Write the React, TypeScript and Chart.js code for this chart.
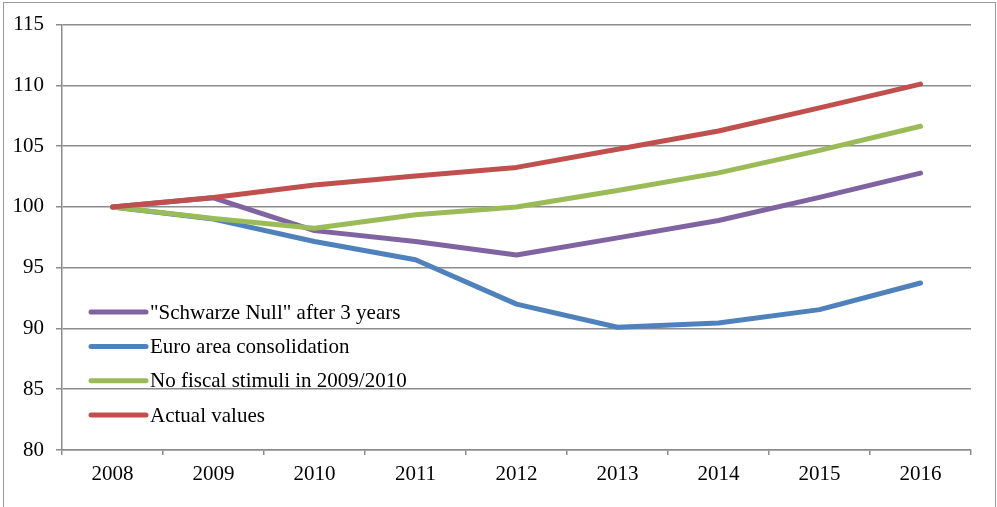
import React, { useEffect, useRef } from "react";
import { Chart, registerables } from "chart.js";

Chart.register(...registerables);

// Years on the horizontal axis
const years = ["2008", "2009", "2010", "2011", "2012", "2013", "2014", "2015", "2016"];

// Scenario paths (index, 2008 = 100)
const schwarzeNull = [100, 100.75, 98.05, 97.15, 96.05, 97.45, 98.88, 100.78, 102.78];
const euroArea = [100, 99.0, 97.15, 95.65, 92.0, 90.1, 90.45, 91.55, 93.74];
const noStimuli = [100, 99.05, 98.25, 99.35, 100.0, 101.35, 102.8, 104.65, 106.64];
const actualValues = [100, 100.78, 101.8, 102.55, 103.25, 104.75, 106.25, 108.15, 110.1];

const seriesNames = [
  '"Schwarze Null" after 3 years',
  "Euro area consolidation",
  "No fiscal stimuli in 2009/2010",
  "Actual values",
];
const seriesColors = ["#8064A2", "#4F81BD", "#9BBB59", "#C0504D"];

// y-axis range
const yMin = 80;
const yMax = 115;
const yStep = 5;

const FONT = "'Liberation Serif', 'Times New Roman', serif";
const FONT_SIZE = 21;
const GRID = "#8c8c8c";

// Legend drawn inside the plot area, lower left
const insideLegend = {
  id: "insideLegend",
  afterDraw(chart: any) {
    const ctx = chart.ctx;
    const area = chart.chartArea;
    const x0 = area.left + 29;
    const x1 = x0 + 55;
    const firstRow = area.top + 287.5;
    const rowGap = 34.3;
    ctx.save();
    ctx.font = `${FONT_SIZE}px ${FONT}`;
    ctx.textBaseline = "middle";
    ctx.textAlign = "left";
    chart.data.datasets.forEach((ds: any, i: number) => {
      const y = firstRow + i * rowGap;
      ctx.strokeStyle = ds.borderColor;
      ctx.lineWidth = 5;
      ctx.lineCap = "round";
      ctx.beginPath();
      ctx.moveTo(x0, y);
      ctx.lineTo(x1, y);
      ctx.stroke();
      ctx.fillStyle = "#000";
      ctx.fillText(ds.label, x1 + 4, y + 1);
    });
    ctx.restore();
  },
};

export default function App() {
  const canvasRef = useRef<HTMLCanvasElement | null>(null);

  useEffect(() => {
    document.body.style.margin = "0";
    const canvas = canvasRef.current;
    if (!canvas) return;
    const values = [schwarzeNull, euroArea, noStimuli, actualValues];
    const drawOrder = [3, 2, 1, 0];
    const chart = new Chart(canvas, {
      type: "line",
      data: {
        labels: years,
        datasets: values.map((v, i) => ({
          label: seriesNames[i],
          data: v,
          borderColor: seriesColors[i],
          backgroundColor: seriesColors[i],
          borderWidth: 5,
          borderCapStyle: "round" as const,
          borderJoinStyle: "round" as const,
          pointRadius: 0,
          tension: 0,
          order: drawOrder[i],
        })),
      },
      options: {
        animation: false,
        responsive: false,
        maintainAspectRatio: false,
        layout: { padding: { top: 23, right: 26, left: 0, bottom: 0 } },
        plugins: {
          legend: { display: false },
          tooltip: { enabled: false },
        },
        scales: {
          x: {
            offset: true,
            grid: {
              offset: true,
              drawOnChartArea: false,
              drawTicks: true,
              tickLength: 5,
              color: GRID,
              lineWidth: 1.5,
            },
            border: { display: true, color: GRID, width: 1.5 },
            ticks: {
              color: "#000",
              font: { family: FONT, size: FONT_SIZE },
              padding: 7,
              maxRotation: 0,
              autoSkip: false,
            },
            afterFit(scale: any) {
              scale.height = 57;
            },
          },
          y: {
            min: yMin,
            max: yMax,
            grid: {
              color: GRID,
              lineWidth: 1.5,
              tickLength: 6,
            },
            border: { display: true, color: GRID, width: 1.5 },
            ticks: {
              stepSize: yStep,
              color: "#000",
              font: { family: FONT, size: FONT_SIZE },
              padding: 12,
            },
            afterFit(scale: any) {
              scale.width = 62;
            },
          },
        },
      },
      plugins: [insideLegend],
    });
    return () => chart.destroy();
  }, []);

  return (
    <div style={{ position: "relative", width: 997, height: 507, overflow: "hidden", background: "#fff" }}>
      <div
        style={{
          position: "absolute",
          left: 3,
          top: 2,
          width: 991,
          height: 520,
          border: "1px solid #999",
        }}
      />
      <canvas
        ref={canvasRef}
        width={997}
        height={507}
        style={{ position: "absolute", left: 0, top: 0, width: 997, height: 507 }}
      />
    </div>
  );
}
